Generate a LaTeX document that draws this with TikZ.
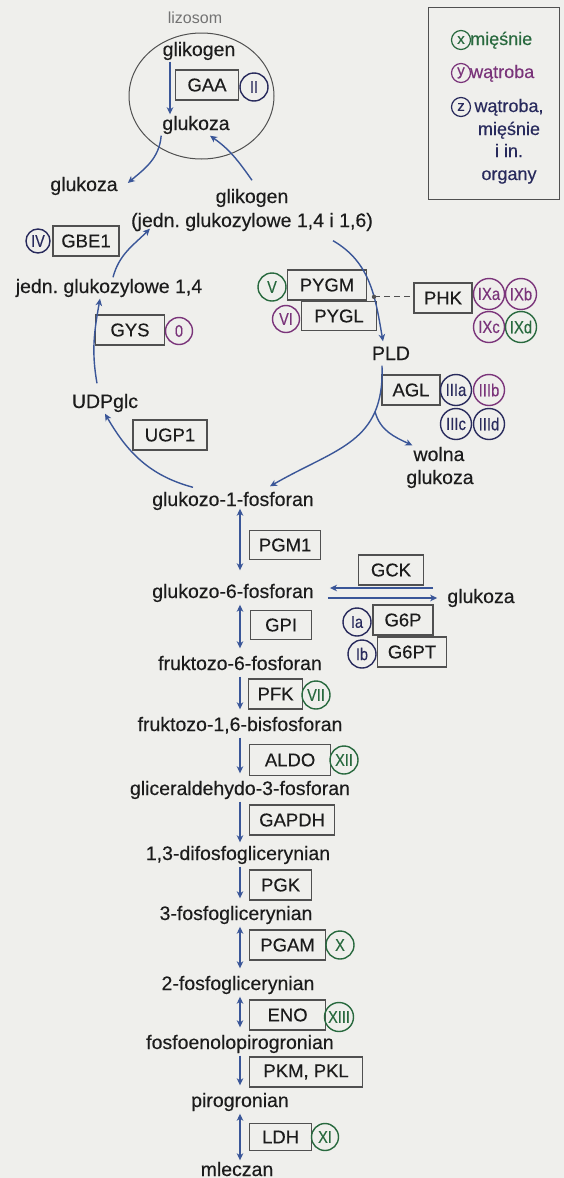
\documentclass[tikz,border=0pt]{standalone}
\usepackage{fontspec}
\setmainfont{Liberation Sans}
\newfontfamily\dfont{Liberation Sans}[FakeBold=0.3]
\usepackage{graphicx}
\usetikzlibrary{arrows.meta}
\definecolor{pathblue}{RGB}{58,86,152}
\definecolor{boxgray}{RGB}{80,80,80}
\definecolor{inkgray}{RGB}{28,28,28}
\definecolor{mgreen}{RGB}{40,105,62}
\definecolor{mpurple}{RGB}{122,52,122}
\definecolor{mnavy}{RGB}{40,42,92}
\definecolor{paper}{RGB}{239,239,236}
\newcommand{\rn}[1]{\scalebox{0.85}[1]{#1}}
\frenchspacing
\tikzset{
  txt/.style={text=inkgray, font=\dfont\fontsize{19.5}{22}\selectfont, text height=14.5pt, text depth=4.5pt, inner sep=1pt},
  enz/.style={draw=boxgray, line width=1.2pt, text=inkgray, font=\dfont\fontsize{18.5}{20}\selectfont, minimum width=#1, minimum height=30pt, inner sep=0pt},
  enz/.default=60pt,
  ring/.style={circle, draw=#1, text=#1, line width=1.4pt, minimum size=28pt, inner sep=0pt, font=\dfont\fontsize{17}{17}\selectfont},
  bigring/.style={ring=#1, minimum size=31pt, font=\dfont\fontsize{17.5}{17}\selectfont},
  arr/.style={draw=pathblue, line width=1.4pt, -{Stealth[length=7pt,width=6.5pt,inset=2pt]}},
  arrS/.style={arr, shorten <=1pt, shorten >=6pt},
  arrD/.style={draw=pathblue, line width=1.4pt, {Stealth[length=7pt,width=6.5pt,inset=2pt]}-{Stealth[length=7pt,width=6.5pt,inset=2pt]}, shorten <=1pt, shorten >=6pt},
}

\begin{document}
\begin{tikzpicture}[x=1pt, y=1pt]
			%%%%% START %%%%%
			\useasboundingbox (0,0) rectangle (564,-1178);
			\fill[paper] (0,0) rectangle (564,-1178);
			
			% lizosom
			\node[text=black!55, font=\fontsize{16}{18}\selectfont] (liz) at (195,-18) {lizosom};
			\draw[boxgray, line width=1pt] (201.5,-96) ellipse [x radius=72.5, y radius=63];
			\node[txt] (glk1) at (199,-51) {glikogen};
			\node[enz=63pt] (gaa) at (207,-85) {GAA};
			\node[ring=mnavy] (r2) at (254,-87) {\rn{II}};
			\node[txt] (glc1) at (196,-125) {glukoza};
			\draw[arr] ([xshift=-29pt]glk1.south) -- ([xshift=-26pt]glc1.north);
			
			\node[txt] (glc0) at (84,-186) {glukoza};
			\node[txt] (glk2) at (252,-198) {glikogen};
			\node[txt] (jd16) at (252,-222) {(jedn. glukozylowe 1,4 i 1,6)};
			\draw[arr] (glc1.south west) to[out=-95,in=40] ([xshift=9pt,yshift=3pt]glc0.east);
			\draw[arr] ([yshift=7pt]glk2.north) to[out=125,in=-35] ([xshift=14pt]glc1.south);
			
			% legenda
			\draw[boxgray, line width=1pt] (428,-7) rectangle (559,-199);
			\node[ring=mgreen, minimum size=19pt, line width=1.2pt, font=\dfont\fontsize{15}{15}\selectfont] (lx) at (461,-40) {x};
			\node[txt, text=mgreen, font=\dfont\fontsize{18}{20}\selectfont, anchor=west] (lxt) at (469,-40) {mięśnie};
			\node[ring=mpurple, minimum size=19pt, line width=1.2pt, font=\dfont\fontsize{15}{15}\selectfont] (ly) at (461,-73) {y};
			\node[txt, text=mpurple, font=\dfont\fontsize{18}{20}\selectfont, anchor=west] (lyt) at (469,-73) {wątroba};
			\node[ring=mnavy, minimum size=19pt, line width=1.2pt, font=\dfont\fontsize{15}{15}\selectfont] (lz) at (461,-107) {z};
			\node[txt, text=mnavy, font=\dfont\fontsize{18}{20}\selectfont] (lz1) at (509,-107) {wątroba,};
			\node[txt, text=mnavy, font=\dfont\fontsize{18}{20}\selectfont] (lz2) at (509,-130) {mięśnie};
			\node[txt, text=mnavy, font=\dfont\fontsize{18}{20}\selectfont] (lz3) at (509,-152) {i in.};
			\node[txt, text=mnavy, font=\dfont\fontsize{18}{20}\selectfont] (lz4) at (509,-175) {organy};
			
			% cykl glikogenu
			\node[txt] (jd14) at (109,-288) {jedn. glukozylowe 1,4};
			\node[txt] (udp) at (105,-403) {UDPglc};
			\node[txt] (pld) at (391,-355) {PLD};
			\node[txt] (wol) at (439,-456) {wolna};
			\node[txt] (glc2) at (440,-479) {glukoza};
			\node[txt] (g1p) at (233,-501) {glukozo-1-fosforan};
			
			\node[ring=mnavy, minimum size=24pt] (r4) at (38,-241) {\rn{IV}};
			\node[enz=66pt] (gbe) at (86,-241) {GBE1};
			\node[enz=69pt] (gys) at (130,-330) {GYS};
			\node[ring=mpurple, minimum size=27pt] (r0) at (179,-331) {\rn{0}};
			\node[enz=74pt] (ugp) at (170,-435) {UGP1};
			
			\node[ring=mgreen] (r5) at (272,-287) {\rn{V}};
			\node[enz=79pt] (pygm) at (327,-285) {PYGM};
			\node[ring=mpurple, minimum size=27pt] (r6) at (286,-319) {\rn{VI}};
			\node[enz=75pt, minimum height=29pt] (pygl) at (339,-316) {PYGL};
			\node[enz=58pt] (phk) at (443,-298) {PHK};
			\node[bigring=mpurple] (r9a) at (489,-294) {\rn{IXa}};
			\node[bigring=mpurple] (r9b) at (521,-294) {\rn{IXb}};
			\node[bigring=mpurple] (r9c) at (489,-327) {\rn{IXc}};
			\node[bigring=mgreen] (r9d) at (521,-327) {\rn{IXd}};
			
			\node[enz=58pt] (agl) at (411,-390) {AGL};
			\node[bigring=mnavy] (r3a) at (456,-390) {\rn{IIIa}};
			\node[bigring=mpurple] (r3b) at (489,-390) {\rn{IIIb}};
			\node[bigring=mnavy] (r3c) at (456,-424) {\rn{IIIc}};
			\node[bigring=mnavy] (r3d) at (489,-424) {\rn{IIId}};
			
			\draw[arr] ([xshift=4pt]jd14.north) to[out=75,in=-135] ([xshift=20pt,yshift=4pt]jd16.south west);
			\draw[arr] ([xshift=-8pt,yshift=9pt]udp.north) to[out=100,in=-100] ([xshift=-9pt]jd14.south);
			\draw[arr] ([xshift=-40pt,yshift=3pt]g1p.north) to[out=165,in=-60] (udp.south);
			\draw[arr] ([xshift=81pt,yshift=-8pt]jd16.south) to[out=-30,in=100] coordinate[pos=0.63] (pk) ([xshift=-8pt,yshift=3pt]pld.north);
			\draw[arr, looseness=1.2] ([xshift=-9pt]pld.south) to[out=-88,in=30] coordinate[pos=0.25] (br) ([xshift=37pt,yshift=4pt]g1p.north);
			\draw[arr] (br) to[out=-75,in=155] (wol.north west);
			\draw[boxgray, line width=1pt, dash pattern=on 6pt off 4pt] (pk) -- (pk -| phk.west);
			\fill[boxgray] (pk) circle (2.2pt);
			
			% glikoliza
			\coordinate (ax) at (240,0);
			\node[enz=71pt, minimum height=29pt, anchor=west] (pgm) at (249,-545) {PGM1};
			\node[txt] (g6p) at (233,-593) {glukozo-6-fosforan};
			\node[enz=65pt] (gck) at (391,-570) {GCK};
			\node[txt] (glcR) at (481,-598) {glukoza};
			\node[ring=mnavy] (r1a) at (357,-622) {\rn{Ia}};
			\node[enz=60pt] (g6pase) at (403,-620) {G6P};
			\node[ring=mnavy] (r1b) at (362,-654) {\rn{Ib}};
			\node[enz=69pt] (g6pt) at (412,-652) {G6PT};
			\node[enz=61pt, minimum height=29pt, anchor=west] (gpi) at (250,-625) {GPI};
			\node[txt] (f6p) at (240,-665) {fruktozo-6-fosforan};
			\node[enz=54pt, anchor=west] (pfk) at (248,-694) {PFK};
			\node[ring=mgreen] (r7) at (316,-695) {\rn{VII}};
			\node[txt] (f16) at (240,-726) {fruktozo-1,6-bisfosforan};
			\node[enz=81pt, minimum height=31pt, anchor=west] (aldo) at (249,-760) {ALDO};
			\node[ring=mgreen] (r12) at (344,-760) {\rn{XII}};
			\node[txt] (gap) at (240,-790) {gliceraldehydo-3-fosforan};
			\node[enz=85pt, anchor=west] (gapdh) at (249,-820) {GAPDH};
			\node[txt] (bpg) at (238,-855) {1,3-difosfoglicerynian};
			\node[enz=62pt, anchor=west] (pgk) at (249,-885) {PGK};
			\node[txt] (pg3) at (236,-915) {3-fosfoglicerynian};
			\node[enz=76pt, anchor=west] (pgam) at (249,-945) {PGAM};
			\node[ring=mgreen] (r10) at (340,-945) {\rn{X}};
			\node[txt] (pg2) at (238,-985) {2-fosfoglicerynian};
			\node[enz=76pt, anchor=west] (eno) at (249,-1015) {ENO};
			\node[ring=mgreen, minimum size=29pt] (r13) at (339,-1017) {\rn{XIII}};
			\node[txt] (pep) at (240,-1044) {fosfoenolopirogronian};
			\node[enz=113pt, anchor=west] (pk1) at (249,-1072) {PKM, PKL};
			\node[txt] (pyr) at (240,-1102) {pirogronian};
			\node[enz=62pt, minimum height=27pt, anchor=west] (ldh) at (249,-1137) {LDH};
			\node[ring=mgreen, minimum size=27pt] (r11) at (325,-1137) {\rn{XI}};
			\node[txt] (lac) at (237,-1171) {mleczan};
			
			\draw[arrD, shorten <=-3pt, shorten >=12pt] (g1p.south -| ax) -- (g6p.north -| ax);
			\draw[arrD] (g6p.south -| ax) -- (f6p.north -| ax);
			\draw[arrS] (f6p.south -| ax) -- (f16.north -| ax);
			\draw[arrS] (f16.south -| ax) -- (gap.north -| ax);
			\draw[arrS, shorten >=2pt] (gap.south -| ax) -- (bpg.north -| ax);
			\draw[arrS] (bpg.south -| ax) -- (pg3.north -| ax);
			\draw[arrD] (pg3.south -| ax) -- (pg2.north -| ax);
			\draw[arrD] (pg2.south -| ax) -- (pep.north -| ax);
			\draw[arrS] (pep.south -| ax) -- (pyr.north -| ax);
			\draw[arrD, shorten >=0pt] (pyr.south -| ax) -- (lac.north -| ax);
			
			\draw[arr, shorten <=13pt, shorten >=15pt] ([yshift=10pt]glcR.west) -- ([yshift=10pt]glcR.west -| g6p.east);
			\draw[arr, shorten <=13pt, shorten >=9pt] (g6p.east |- glcR.west) -- (glcR.west);
			
			%%%%% END %%%%%
		\end{tikzpicture}
\end{document}
